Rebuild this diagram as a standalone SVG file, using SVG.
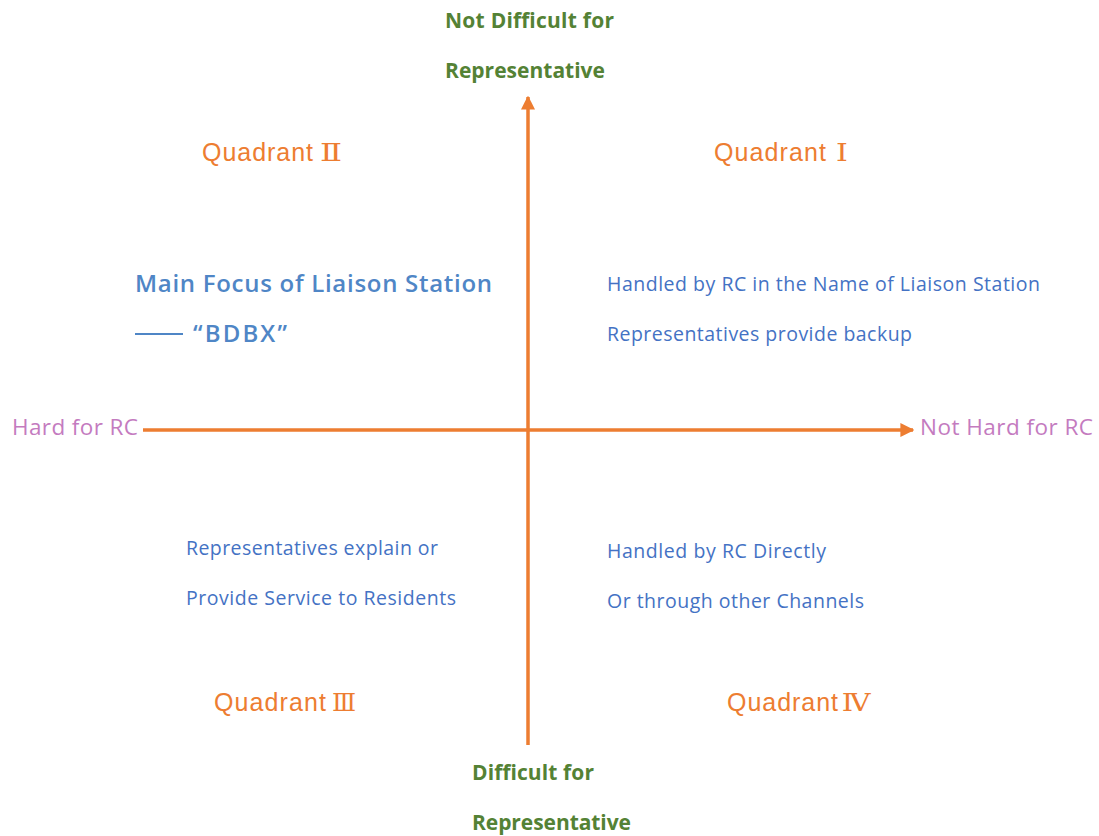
<svg xmlns="http://www.w3.org/2000/svg" width="1099" height="836" viewBox="0 0 1099 836">
  <style>
    .axis { stroke: #ED7D31; stroke-width: 3.5; fill: none; }
    .ylab { font-family: "Open Sans", Lato, "Liberation Sans", sans-serif; font-weight: bold; font-size: 21px; fill: #548235; }
    .xlab { font-family: "Open Sans", Lato, "Liberation Sans", sans-serif; font-size: 22.5px; fill: #C47BBF; }
    .quad { font-family: "Liberation Sans", Arial, sans-serif; font-size: 25px; fill: #ED7D31; }
    .num { font-family: "DejaVu Serif", "Liberation Serif", serif; font-size: 25px; fill: #ED7D31; text-anchor: middle; }
    .focus { font-family: "Open Sans", Lato, "Liberation Sans", sans-serif; font-size: 24px; font-weight: 600; fill: #4F86C6; }
    .note { font-family: "Open Sans", Lato, "Liberation Sans", sans-serif; font-size: 19.5px; fill: #4472C4; }
  </style>
  <defs>
    <marker id="head" viewBox="0 0 10 10" refX="9" refY="5" markerWidth="4" markerHeight="4" orient="auto" markerUnits="strokeWidth">
      <path d="M0,0 L10,5 L0,10 z" fill="#ED7D31"/>
    </marker>
  </defs>
  <rect width="1099" height="836" fill="#FFFFFF"/>

  <g id="connectors">
    <line class="axis" x1="528" y1="745" x2="528" y2="97" marker-end="url(#head)"/>
    <line class="axis" x1="143" y1="430" x2="913" y2="430" marker-end="url(#head)"/>
  </g>

  <g id="axis-top">
    <text class="ylab" x="445" y="28" textLength="169">Not Difficult for</text>
    <text class="ylab" x="445" y="78" textLength="160">Representative</text>
  </g>
  <g id="axis-bottom">
    <text class="ylab" x="472" y="780" textLength="122">Difficult for</text>
    <text class="ylab" x="472" y="830" textLength="159">Representative</text>
  </g>
  <g id="axis-left">
    <text class="xlab" x="12" y="435" textLength="126">Hard for RC</text>
  </g>
  <g id="axis-right">
    <text class="xlab" x="920" y="435" textLength="173">Not Hard for RC</text>
  </g>

  <g id="quadrant-1">
    <text class="quad" x="714" y="161" textLength="112">Quadrant</text>
    <text class="num" transform="translate(842,161) scale(1.2,1)">Ⅰ</text>
    <text class="note" x="607" y="291" textLength="433">Handled by RC in the Name of Liaison Station</text>
    <text class="note" x="607" y="341" textLength="305">Representatives provide backup</text>
  </g>
  <g id="quadrant-2">
    <text class="quad" x="202" y="161" textLength="111">Quadrant</text>
    <text class="num" transform="translate(331,161) scale(1.3,1)">Ⅱ</text>
    <text class="focus" x="135" y="292" textLength="357">Main Focus of Liaison Station</text>
    <line x1="135" y1="334" x2="183" y2="334" stroke="#4F86C6" stroke-width="2"/>
    <text class="focus" x="193" y="342" textLength="94">“BDBX”</text>
  </g>
  <g id="quadrant-3">
    <text class="note" x="186" y="555" textLength="252">Representatives explain or</text>
    <text class="note" x="186" y="605" textLength="270">Provide Service to Residents</text>
    <text class="quad" x="214" y="711" textLength="112">Quadrant</text>
    <text class="num" transform="translate(344,711)">Ⅲ</text>
  </g>
  <g id="quadrant-4">
    <text class="note" x="607" y="558" textLength="219">Handled by RC Directly</text>
    <text class="note" x="607" y="608" textLength="257">Or through other Channels</text>
    <text class="quad" x="727" y="711" textLength="111">Quadrant</text>
    <text class="num" transform="translate(856,711) scale(1.15,1)">Ⅳ</text>
  </g>
</svg>
